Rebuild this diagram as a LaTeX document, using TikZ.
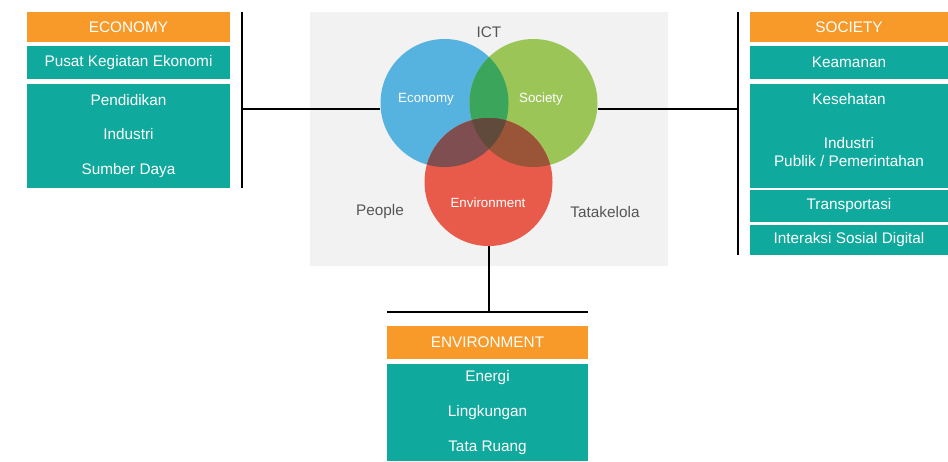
\documentclass[tikz,border=0pt]{standalone}
\usepackage{fontspec}
\setmainfont{Liberation Sans}

\definecolor{boxorange}{HTML}{F79A29}
\definecolor{boxteal}{HTML}{10A99D}
\definecolor{panelgray}{HTML}{F2F2F2}
\definecolor{labelgray}{HTML}{555555}
\definecolor{ecoblue}{HTML}{56B3E0}
\definecolor{socgreen}{HTML}{9CC558}
\definecolor{envred}{HTML}{E85B4A}
\definecolor{ecosoc}{HTML}{3BA55B}
\definecolor{ecoenv}{HTML}{7E4E50}
\definecolor{socenv}{HTML}{9A5437}
\definecolor{allthree}{HTML}{5F4A3C}

\tikzset{
  head/.style={fill=boxorange, text=white, inner sep=0pt, minimum height=22.5pt,
    font=\fontsize{11.5}{14}\selectfont},
  item/.style={fill=boxteal, text=white, inner sep=0pt, align=center,
    font=\fontsize{11.5}{14}\selectfont},
  set/.style={circle, inner sep=0pt, minimum size=96pt},
  setlabel/.style={text=white, font=\fontsize{10}{12}\selectfont},
  side/.style={text=labelgray, font=\fontsize{11.5}{14}\selectfont},
  bar/.style={line width=1.5pt, black},
}

\begin{document}
\begin{tikzpicture}[x=0.75pt,y=-0.75pt]
  \useasboundingbox (0,0) rectangle (948,461);

  % grey panel behind the circles
  \fill[panelgray] (310,12) rectangle (668,266);

  % the three sets
  \node[set, fill=ecoblue] (eco) at (444.5,103) {};
  \node[set, fill=socgreen] (soc) at (533.5,103) {};
  \node[set, fill=envred] (env) at (488.5,182) {};

  % overlaps
  \begin{scope}
    \clip (eco.center) circle (48pt);
    \fill[ecosoc] (soc.center) circle (48pt);
  \end{scope}
  \begin{scope}
    \clip (eco.center) circle (48pt);
    \fill[ecoenv] (env.center) circle (48pt);
  \end{scope}
  \begin{scope}
    \clip (soc.center) circle (48pt);
    \fill[socenv] (env.center) circle (48pt);
  \end{scope}
  \begin{scope}
    \clip (eco.center) circle (48pt);
    \clip (soc.center) circle (48pt);
    \fill[allthree] (env.center) circle (48pt);
  \end{scope}

  \node[setlabel] (ecolabel) at (426,99) {Economy};
  \node[setlabel] (soclabel) at (541,99) {Society};
  \node[setlabel] (envlabel) at (488,203) {Environment};

  \node[side] (ict) at (489,32) {ICT};
  \node[side] (people) at (380,212) {People};
  \node[side] (tatakelola) at (605,212) {Tatakelola};

  % economy column
  \node[head, minimum width=152.25pt] (ecohead) at (128.5,27) {ECONOMY};
  \node[item, minimum width=152.25pt, minimum height=24.75pt] (eco1) at (128.5,62.5) {Pusat Kegiatan Ekonomi};
  \node[item, minimum width=152.25pt, minimum height=78pt] (eco2) at (128.5,136)
    {Pendidikan\\[11.9pt]Industri\\[11.9pt]Sumber Daya};

  % society column
  \node[head, minimum width=148.5pt] (sochead) at (849,27) {SOCIETY};
  \node[item, minimum width=148.5pt, minimum height=24.75pt] (soc1) at (849,62.5) {Keamanan};
  \node[item, minimum width=148.5pt, minimum height=78pt] (soc2) at (849,136) {};
  \node[item, fill=none] (soc2text) at (849,130)
    {Kesehatan\\[19pt]Industri\\Publik / Pemerintahan};
  \node[item, minimum width=148.5pt, minimum height=24pt] (soc3) at (849,206) {Transportasi};
  \node[item, minimum width=148.5pt, minimum height=22.5pt] (soc4) at (849,240) {Interaksi Sosial Digital};

  % environment column
  \node[head, minimum width=150.75pt, minimum height=24.75pt] (envhead) at (487.5,342.5) {ENVIRONMENT};
  \node[item, minimum width=150.75pt, minimum height=72.75pt] (env1) at (487.5,412.5)
    {Energi\\[12.6pt]Lingkungan\\[12.6pt]Tata Ruang};

  % brackets and connectors
  \coordinate (ecobar) at ([xshift=9pt]ecohead.north east);
  \coordinate (socbar) at ([xshift=-9pt]sochead.north west);
  \coordinate (envbar) at ([yshift=10.5pt]envhead.north west);

  \draw[bar] (ecobar) -- (ecobar |- eco2.south);
  \draw[bar] (eco.185) -- (eco.185 -| ecobar);

  \draw[bar] (socbar) -- (socbar |- soc4.south);
  \draw[bar] (soc.-5) -- (soc.-5 -| socbar);

  \draw[bar] (envbar) -- (envbar -| envhead.north east);
  \draw[bar] (env.south) -- (env.south |- envbar);
\end{tikzpicture}
\end{document}
